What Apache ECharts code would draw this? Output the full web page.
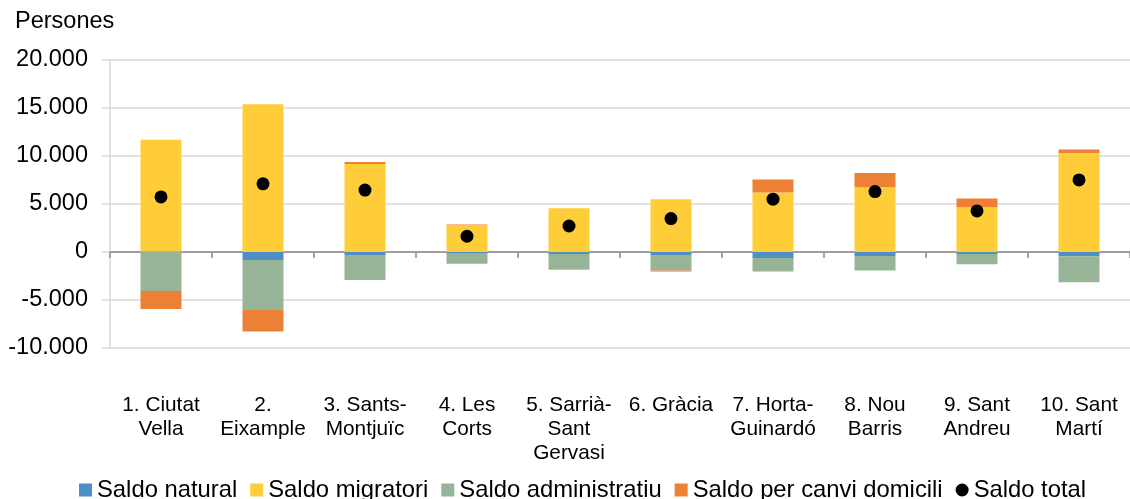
<!DOCTYPE html>
<html>
<head>
<meta charset="utf-8">
<script src="https://cdn.jsdelivr.net/npm/echarts@6/dist/echarts.min.js"></script>
<style>
  html, body { margin: 0; padding: 0; background: #fff; }
  #chart { width: 1130px; height: 499px; }
</style>
</head>
<body>
<div id="chart"></div>
<script>
// Districtes de Barcelona
const categories = [
  '1. Ciutat\nVella', '2.\nEixample', '3. Sants-\nMontjuïc', '4. Les\nCorts',
  '5. Sarrià-\nSant\nGervasi', '6. Gràcia', '7. Horta-\nGuinardó', '8. Nou\nBarris',
  '9. Sant\nAndreu', '10. Sant\nMartí'
];

// Components del saldo (persones)
const saldoNatural       = [40, -830, -310, -180, -200, -300, -620, -420, -200, -450];
const saldoMigratori     = [11640, 15390, 9170, 2780, 4550, 5500, 6190, 6740, 4660, 10310];
const saldoAdministratiu = [-4060, -5140, -2610, -1050, -1620, -1620, -1420, -1520, -1080, -2710];
const saldoCanviDomicili = [-1880, -2320, 200, 90, -20, -100, 1350, 1490, 900, 360];
const saldoTotal         = [5740, 7100, 6450, 1640, 2710, 3480, 5500, 6290, 4280, 7510];

const seriesNames = ['Saldo natural', 'Saldo migratori', 'Saldo administratiu', 'Saldo per canvi domicili', 'Saldo total'];
const colors = ['#4F8FC7', '#FFCD38', '#98B496', '#EC8034', '#000000'];

const FONT = '"Liberation Sans", Arial, sans-serif';

function fmtThousands(v) {
  const s = Math.abs(v).toString().replace(/\B(?=(\d{3})+(?!\d))/g, '.');
  return (v < 0 ? '-' : '') + s;
}

function barSeries(name, data, color) {
  return {
    name: name,
    type: 'bar',
    stack: 'saldo',
    xAxisIndex: 0,
    barWidth: 41,
    itemStyle: { color: color },
    data: data
  };
}

const chart = echarts.init(document.getElementById('chart'), null, { renderer: 'canvas' });

chart.setOption({
  animation: false,
  backgroundColor: '#ffffff',
  textStyle: { fontFamily: FONT, color: '#000' },
  title: {
    text: 'Persones',
    left: 10,
    top: 5,
    textStyle: { fontFamily: FONT, fontSize: 23.5, fontWeight: 'normal', color: '#000' }
  },
  grid: { left: 110, top: 60, width: 1023, height: 288, containLabel: false },
  legend: {
    left: 74,
    top: 473,
    itemWidth: 13,
    itemHeight: 13,
    itemGap: 13,
    textStyle: { fontFamily: FONT, fontSize: 23.8, color: '#000' },
    data: [
      { name: seriesNames[0], icon: 'rect' },
      { name: seriesNames[1], icon: 'rect' },
      { name: seriesNames[2], icon: 'rect' },
      { name: seriesNames[3], icon: 'rect' },
      { name: seriesNames[4], icon: 'circle' }
    ]
  },
  xAxis: [
    {
      // category labels below the plot
      type: 'category',
      data: categories,
      position: 'bottom',
      axisLine: { show: false, onZero: false },
      axisTick: { show: false },
      splitLine: { show: false },
      axisLabel: {
        interval: 0,
        margin: 45,
        fontFamily: FONT,
        fontSize: 20.8,
        lineHeight: 24,
        color: '#000',
        align: 'center'
      }
    },
    {
      // zero line with separator ticks
      type: 'category',
      data: categories,
      position: 'bottom',
      axisLine: { show: true, onZero: true, lineStyle: { color: '#8a8a8a', width: 1.5 } },
      axisTick: { show: true, length: 6, lineStyle: { color: '#8a8a8a', width: 1.5 } },
      axisLabel: { show: false },
      splitLine: { show: false }
    }
  ],
  yAxis: {
    type: 'value',
    min: -10000,
    max: 20000,
    interval: 5000,
    axisLine: { show: true, lineStyle: { color: '#d9d9d9', width: 1.5 } },
    axisTick: { show: true, length: 8, lineStyle: { color: '#d9d9d9', width: 1.5 } },
    splitLine: { show: true, lineStyle: { color: '#d9d9d9', width: 1.5 } },
    axisLabel: {
      margin: 22,
      fontFamily: FONT,
      fontSize: 23.5,
      color: '#000',
      formatter: fmtThousands
    }
  },
  series: [
    barSeries(seriesNames[0], saldoNatural, colors[0]),
    barSeries(seriesNames[1], saldoMigratori, colors[1]),
    barSeries(seriesNames[2], saldoAdministratiu, colors[2]),
    barSeries(seriesNames[3], saldoCanviDomicili, colors[3]),
    {
      name: seriesNames[4],
      type: 'scatter',
      xAxisIndex: 0,
      symbol: 'circle',
      symbolSize: 13,
      itemStyle: { color: colors[4], opacity: 1 },
      z: 5,
      data: saldoTotal
    }
  ]
});
</script>
</body>
</html>
